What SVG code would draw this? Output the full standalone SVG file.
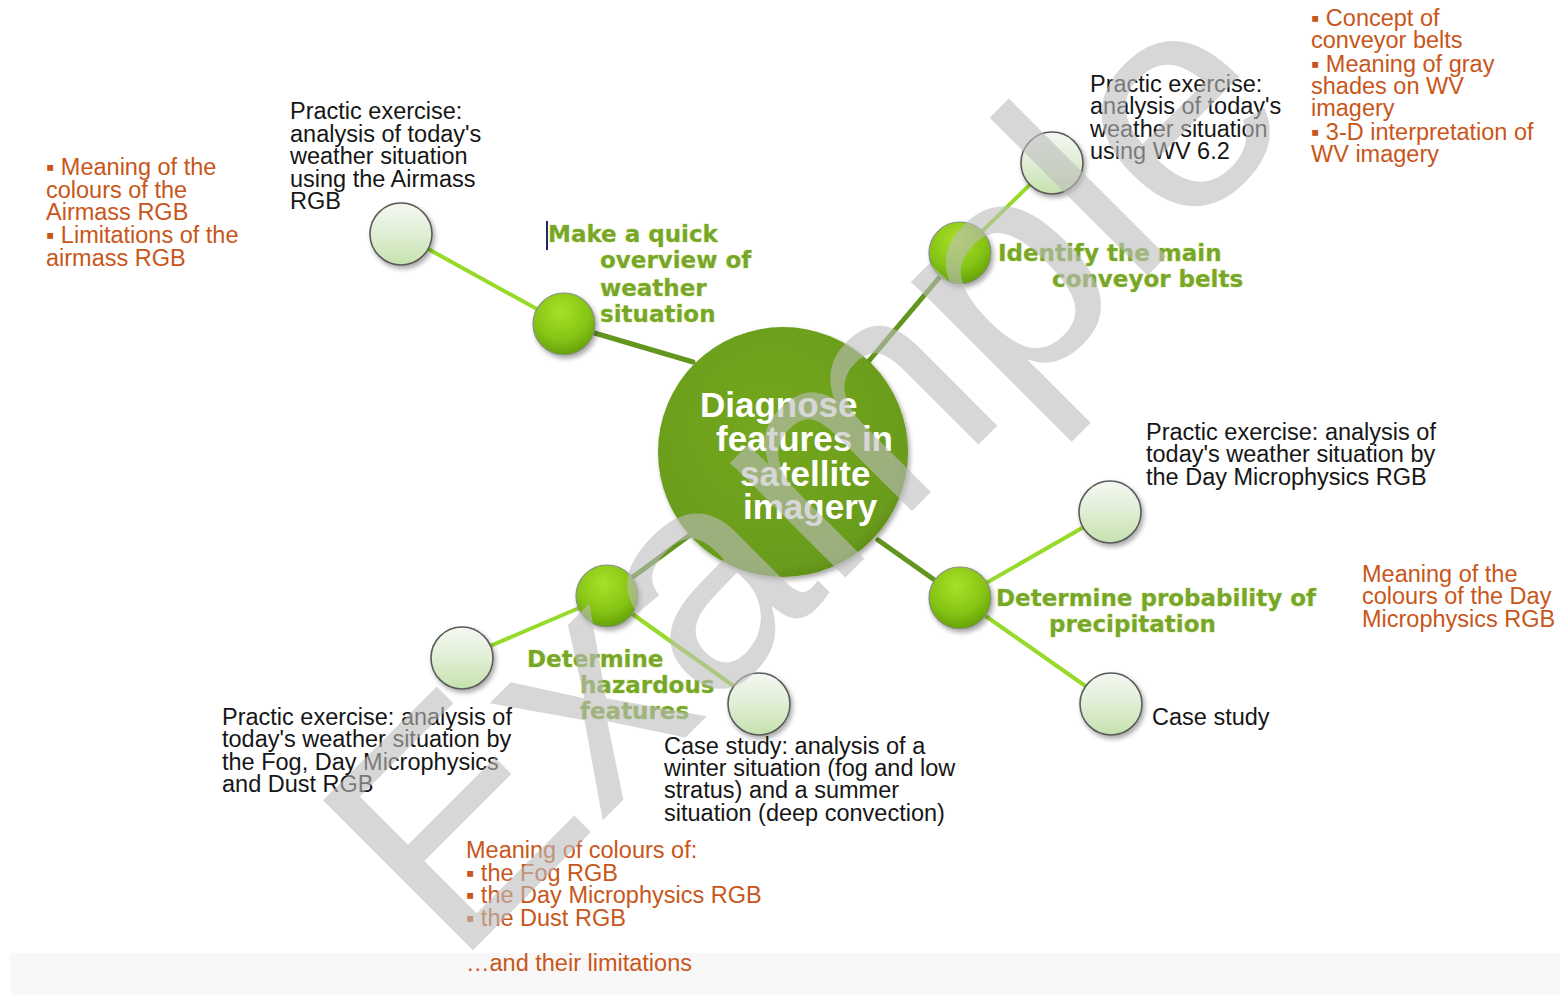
<svg xmlns="http://www.w3.org/2000/svg" width="1560" height="995" viewBox="0 0 1560 995">
<defs>
<radialGradient id="gCenter" cx="0.45" cy="0.4" r="0.65">
<stop offset="0" stop-color="#74a820"/>
<stop offset="0.85" stop-color="#6a9c1c"/>
<stop offset="1" stop-color="#5a8816"/>
</radialGradient>
<radialGradient id="gNode" cx="0.45" cy="0.3" r="0.75">
<stop offset="0" stop-color="#a8e02a"/>
<stop offset="0.6" stop-color="#86c414"/>
<stop offset="1" stop-color="#5f9a0a"/>
</radialGradient>
<linearGradient id="gPale" x1="0" y1="0" x2="0" y2="1">
<stop offset="0" stop-color="#f4f8f1"/>
<stop offset="0.45" stop-color="#e2efd8"/>
<stop offset="1" stop-color="#c5e2ae"/>
</linearGradient>
<filter id="sh" x="-30%" y="-30%" width="160%" height="160%">
<feGaussianBlur in="SourceAlpha" stdDeviation="2.5"/>
<feOffset dx="2" dy="3" result="b"/>
<feComponentTransfer><feFuncA type="linear" slope="0.35"/></feComponentTransfer>
<feMerge><feMergeNode/><feMergeNode in="SourceGraphic"/></feMerge>
</filter>
<style>
.c1{stroke:#63961f;stroke-width:5;fill:none;stroke-linecap:round}
.c2{stroke:#96da2a;stroke-width:4;fill:none;stroke-linecap:round}
.gn{fill:url(#gNode);stroke:#8a8f86;stroke-width:1.2}
.pn{fill:url(#gPale);stroke:#5a5a5a;stroke-width:1.6}
.gt{font-family:"DejaVu Sans",Verdana,sans-serif;font-weight:bold;font-size:23px;fill:#77a72a;stroke:#e6f0b8;stroke-width:1.2;paint-order:stroke}
.bt{font-family:"Liberation Sans",Arial,sans-serif;font-size:23.5px;fill:#161616}
.ot{font-family:"Liberation Sans",Arial,sans-serif;font-size:23.5px;fill:#c8561a}
.ct{font-family:"Liberation Sans",Arial,sans-serif;font-weight:bold;font-size:35px;fill:#ffffff}
</style>
</defs>
<rect x="0" y="0" width="1560" height="995" fill="#ffffff"/>
<rect x="10" y="953" width="1550" height="42" fill="#f8f8f8"/>

<g id="connectors">
<line class="c1" x1="693" y1="362" x2="564" y2="324"/>
<line class="c1" x1="868" y1="362" x2="960" y2="253"/>
<line class="c1" x1="878" y1="540" x2="960" y2="598"/>
<line class="c1" x1="690" y1="535" x2="607" y2="596"/>
<line class="c2" x1="564" y1="324" x2="401" y2="234"/>
<line class="c2" x1="960" y1="253" x2="1052" y2="163"/>
<line class="c2" x1="960" y1="598" x2="1110" y2="512"/>
<line class="c2" x1="960" y1="598" x2="1111" y2="704"/>
<line class="c2" x1="607" y1="596" x2="462" y2="658"/>
<line class="c2" x1="607" y1="596" x2="759" y2="704"/>
</g>

<g id="center">
<circle cx="783" cy="452" r="125" fill="url(#gCenter)" filter="url(#sh)"/>
<text class="ct" x="700" y="417">Diagnose</text>
<text class="ct" x="716" y="451">features in</text>
<text class="ct" x="740" y="486">satellite</text>
<text class="ct" x="743" y="519">imagery</text>
</g>

<g id="node-overview">
<circle class="gn" cx="564" cy="324" r="31" filter="url(#sh)"/>
<line x1="547" y1="221" x2="547" y2="250" stroke="#1c2a66" stroke-width="2"/>
<text class="gt" x="548" y="242">Make a quick</text>
<text class="gt" x="600" y="268">overview of</text>
<text class="gt" x="600" y="296">weather</text>
<text class="gt" x="600" y="322">situation</text>
</g>
<g id="node-airmass-exercise">
<circle class="pn" cx="401" cy="234" r="31" filter="url(#sh)"/>
<text class="bt" x="290" y="119">Practic exercise:</text>
<text class="bt" x="290" y="142">analysis of today's</text>
<text class="bt" x="290" y="164">weather situation</text>
<text class="bt" x="290" y="187">using  the Airmass</text>
<text class="bt" x="290" y="209">RGB</text>
</g>
<g id="note-airmass">
<text class="ot" x="46" y="175">▪ Meaning of the</text>
<text class="ot" x="46" y="198">colours of the</text>
<text class="ot" x="46" y="220">Airmass RGB</text>
<text class="ot" x="46" y="243">▪ Limitations of the</text>
<text class="ot" x="46" y="266">airmass RGB</text>
</g>

<g id="node-conveyor">
<circle class="gn" cx="960" cy="253" r="31" filter="url(#sh)"/>
<text class="gt" x="998" y="261">Identify the main</text>
<text class="gt" x="1052" y="287">conveyor belts</text>
</g>
<g id="node-wv-exercise">
<circle class="pn" cx="1052" cy="163" r="31" filter="url(#sh)"/>
<text class="bt" x="1090" y="92">Practic exercise:</text>
<text class="bt" x="1090" y="114">analysis of today's</text>
<text class="bt" x="1090" y="137">weather situation</text>
<text class="bt" x="1090" y="159">using WV 6.2</text>
</g>
<g id="note-conveyor">
<text class="ot" x="1311" y="26">▪ Concept of</text>
<text class="ot" x="1311" y="48">conveyor belts</text>
<text class="ot" x="1311" y="72">▪ Meaning of gray</text>
<text class="ot" x="1311" y="94">shades on WV</text>
<text class="ot" x="1311" y="116">imagery</text>
<text class="ot" x="1311" y="140">▪ 3-D interpretation of</text>
<text class="ot" x="1311" y="162">WV imagery</text>
</g>

<g id="node-precipitation">
<circle class="gn" cx="960" cy="598" r="31" filter="url(#sh)"/>
<text class="gt" x="996" y="606">Determine probability of</text>
<text class="gt" x="1049" y="632">precipitation</text>
</g>
<g id="node-daymicro-exercise">
<circle class="pn" cx="1110" cy="512" r="31" filter="url(#sh)"/>
<text class="bt" x="1146" y="440">Practic exercise: analysis of</text>
<text class="bt" x="1146" y="462">today's weather situation by</text>
<text class="bt" x="1146" y="485">the Day Microphysics RGB</text>
</g>
<g id="node-case-study">
<circle class="pn" cx="1111" cy="704" r="31" filter="url(#sh)"/>
<text class="bt" x="1152" y="725">Case study</text>
</g>
<g id="note-daymicro">
<text class="ot" x="1362" y="582">Meaning of the</text>
<text class="ot" x="1362" y="604">colours of the Day</text>
<text class="ot" x="1362" y="627">Microphysics RGB</text>
</g>

<g id="node-hazardous">
<circle class="gn" cx="607" cy="596" r="31" filter="url(#sh)"/>
<text class="gt" x="527" y="667">Determine</text>
<text class="gt" x="580" y="693">hazardous</text>
<text class="gt" x="580" y="719">features</text>
</g>
<g id="node-fog-exercise">
<circle class="pn" cx="462" cy="658" r="31" filter="url(#sh)"/>
<text class="bt" x="222" y="725">Practic exercise: analysis of</text>
<text class="bt" x="222" y="747">today's weather situation by</text>
<text class="bt" x="222" y="770">the Fog, Day Microphysics</text>
<text class="bt" x="222" y="792">and Dust RGB</text>
</g>
<g id="node-case-winter-summer">
<circle class="pn" cx="759" cy="704" r="31" filter="url(#sh)"/>
<text class="bt" x="664" y="754">Case study: analysis of a</text>
<text class="bt" x="664" y="776">winter situation (fog and low</text>
<text class="bt" x="664" y="798">stratus) and a summer</text>
<text class="bt" x="664" y="821">situation (deep convection)</text>
</g>
<g id="note-hazardous">
<text class="ot" x="466" y="858">Meaning of colours of:</text>
<text class="ot" x="466" y="881">▪ the Fog RGB</text>
<text class="ot" x="466" y="903">▪ the Day Microphysics RGB</text>
<text class="ot" x="466" y="926">▪ the Dust RGB</text>
<text class="ot" x="466" y="971">…and their limitations</text>
</g>

<text x="455" y="968" transform="rotate(-45 455 968)" font-family="Liberation Sans, Arial, sans-serif" font-size="308" fill="#bdbdbd" fill-opacity="0.6">Example</text>
</svg>
